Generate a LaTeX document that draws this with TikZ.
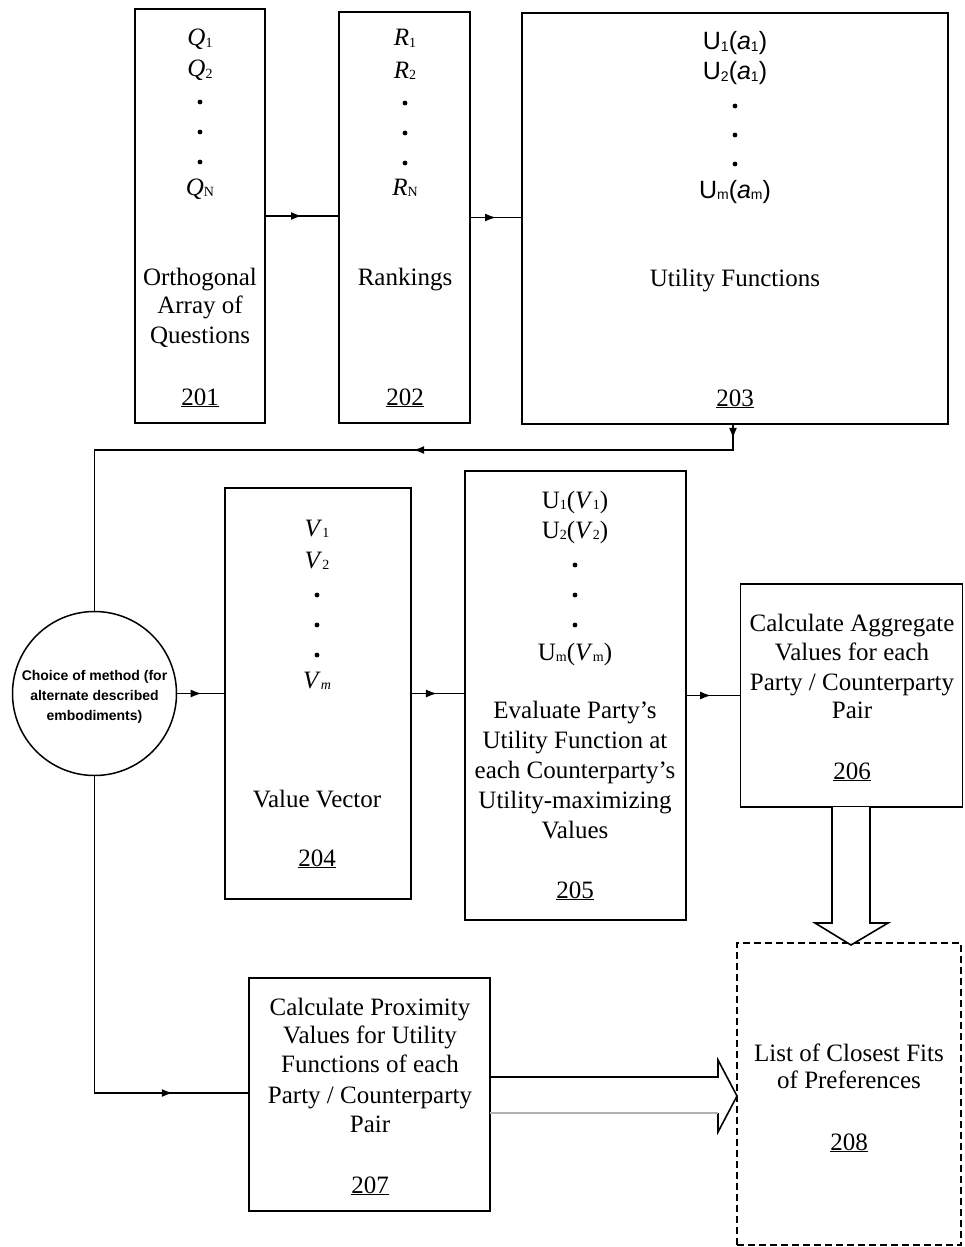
\documentclass[tikz,border=0pt]{standalone}
\usepackage{fontspec}
\setmainfont{Liberation Serif}
\setsansfont{Liberation Sans}
\usetikzlibrary{arrows.meta,decorations.markings}
\newcommand\sbx[1]{\raisebox{-1.5pt}{\fontsize{14}{14}\selectfont #1}}
\begin{document}
\begin{tikzpicture}[x=1pt,y=-1pt,
  box/.style={draw, line width=1.6pt, inner sep=0pt},
  dbox/.style={draw, line width=1.6pt, inner sep=0pt, dash pattern=on 7pt off 4pt},
  txt/.style={font=\fontsize{25}{29}\selectfont, inner sep=0pt, anchor=base},
  ctxt/.style={font=\sffamily\bfseries\fontsize{14}{20}\selectfont, inner sep=0pt, anchor=base},
  conn/.style={line width=1.5pt},
  mk/.style={postaction={decorate, decoration={markings, mark=at position #1 with {\arrow{Latex[length=11pt,width=8pt]}}}}},
  hollow/.style={line width=1.6pt, fill=white, line join=miter},
]
\useasboundingbox (0,0) rectangle (964,1247);

% boxes
\node[box, minimum width=130, minimum height=414] (b201) at (200,216) {};
\node[box, minimum width=131, minimum height=411] (b202) at (404.5,217.5) {};
\node[box, minimum width=426, minimum height=411] (b203) at (735,218.5) {};
\node[box, minimum width=186, minimum height=411] (b204) at (318,693.5) {};
\node[box, minimum width=221, minimum height=449] (b205) at (575.5,695.5) {};
\node[box, minimum width=222, minimum height=223] (b206) at (851.5,695.5) {};
\node[box, minimum width=241, minimum height=233] (b207) at (369.5,1094.5) {};
\node[dbox, minimum width=224, minimum height=302] (b208) at (849,1094) {};
\node[draw, line width=1.5pt, circle, minimum size=164, inner sep=0pt] (circ) at (94.5,693.5) {};

% 201
\node[txt] (q1) at (200,46) {\textit{Q}\sbx{1}};
\node[txt] (q2) at (200,77) {\textit{Q}\sbx{2}};
\node[txt] (qn) at (200,195) {\textit{Q}\sbx{N}};
\fill (200,102) circle (2.4); \fill (200,132) circle (2.4); \fill (200,162) circle (2.4);
\node[txt] (t201a) at (200,285) {Orthogonal};
\node[txt] (t201b) at (200,313) {Array of};
\node[txt] (t201c) at (200,343) {Questions};
\node[txt] (n201) at (200,405) {\underline{201}};

% 202
\node[txt] (r1) at (405,46) {\textit{R}\sbx{1}};
\node[txt] (r2) at (405,78) {\textit{R}\sbx{2}};
\node[txt] (rn) at (405,195) {\textit{R}\sbx{N}};
\fill (405,103) circle (2.4); \fill (405,133) circle (2.4); \fill (405,163) circle (2.4);
\node[txt] (t202a) at (405,285) {Rankings};
\node[txt] (n202) at (405,405) {\underline{202}};

% 203
\node[txt] (u1) at (735,50) {\sffamily U\sbx{1}(\textit{a}\sbx{1})};
\node[txt] (u2) at (735,80) {\sffamily U\sbx{2}(\textit{a}\sbx{1})};
\node[txt] (um) at (735,198) {\sffamily U\sbx{m}(\textit{a}\sbx{m})};
\fill (735,106) circle (2.4); \fill (735,135) circle (2.4); \fill (735,164) circle (2.4);
\node[txt] (t203a) at (735,286) {Utility Functions};
\node[txt] (n203) at (735,406) {\underline{203}};

% 204
\node[txt] (v1) at (317,536) {\textit{V}\sbx{1}};
\node[txt] (v2) at (317,568) {\textit{V}\sbx{2}};
\node[txt] (vm) at (317,688) {\textit{V}\sbx{\textit{m}}};
\fill (317,595) circle (2.4); \fill (317,625) circle (2.4); \fill (317,655) circle (2.4);
\node[txt] (t204a) at (317,807) {Value Vector};
\node[txt] (n204) at (317,866) {\underline{204}};

% 205
\node[txt] (w1) at (575,508) {U\sbx{1}(\textit{V}\sbx{1})};
\node[txt] (w2) at (575,538) {U\sbx{2}(\textit{V}\sbx{2})};
\node[txt] (wm) at (575,660) {U\sbx{m}(\textit{V}\sbx{m})};
\fill (575,565) circle (2.4); \fill (575,595) circle (2.4); \fill (575,625) circle (2.4);
\node[txt] (t205a) at (575,718) {Evaluate Party's};
\node[txt] (t205b) at (575,748) {Utility Function at};
\node[txt] (t205c) at (575,778) {each Counterparty's};
\node[txt] (t205d) at (575,808) {Utility-maximizing};
\node[txt] (t205e) at (575,838) {Values};
\node[txt] (n205) at (575,898) {\underline{205}};

% 206
\node[txt] (t206a) at (852,631) {Calculate Aggregate};
\node[txt] (t206b) at (852,660) {Values for each};
\node[txt] (t206c) at (852,690) {Party / Counterparty};
\node[txt] (t206d) at (852,718) {Pair};
\node[txt] (n206) at (852,779) {\underline{206}};

% 207
\node[txt] (t207a) at (370,1015) {Calculate Proximity};
\node[txt] (t207b) at (370,1043) {Values for Utility};
\node[txt] (t207c) at (370,1072) {Functions of each};
\node[txt] (t207d) at (370,1103) {Party / Counterparty};
\node[txt] (t207e) at (370,1132) {Pair};
\node[txt] (n207) at (370,1193) {\underline{207}};

% 208
\node[txt] (t208a) at (849,1061) {List of Closest Fits};
\node[txt] (t208b) at (849,1088) {of Preferences};
\node[txt] (n208) at (849,1150) {\underline{208}};

% circle text
\node[ctxt] (c1) at (94.5,680) {Choice of method (for};
\node[ctxt] (c2) at (94.5,700) {alternate described};
\node[ctxt] (c3) at (94.5,720) {embodiments)};

% connectors
\draw[conn, mk=0.5] (b201.east) -- (b202.west |- b201.east);
\draw[conn, mk=0.5] (b202.east) -- (b203.west |- b202.east);
\coordinate (ra) at (733,450);
\coordinate (rb) at (94.5,450);
\draw[conn, mk=14pt, mk=345pt] (b203.south -| ra) -- (ra) -- (rb) -- (circ.north);
\draw[conn, mk=0.52] (circ.east) -- (b204.west |- circ.east);
\draw[conn, mk=0.48] (b204.east) -- (b205.west |- b204.east);
\draw[conn, mk=0.46] (b205.east) -- (b206.west |- b205.east);
\coordinate (rc) at (94.5,1093);
\draw[conn, mk=395pt] (circ.south) -- (rc) -- (b207.west |- rc);

% hollow arrows
\draw[hollow] (832,807) -- (832,923) -- (815,923) -- (851,945) -- (888,923) -- (870,923) -- (870,807);
\fill[white] (491,1078) rectangle (717,1112);
\draw[hollow] (490,1077) -- (718,1077) -- (718,1060) -- (737,1096) -- (718,1132) -- (718,1113);
\draw[line width=1.3pt, gray!60] (490,1113) -- (718,1113);
\end{tikzpicture}
\end{document}
